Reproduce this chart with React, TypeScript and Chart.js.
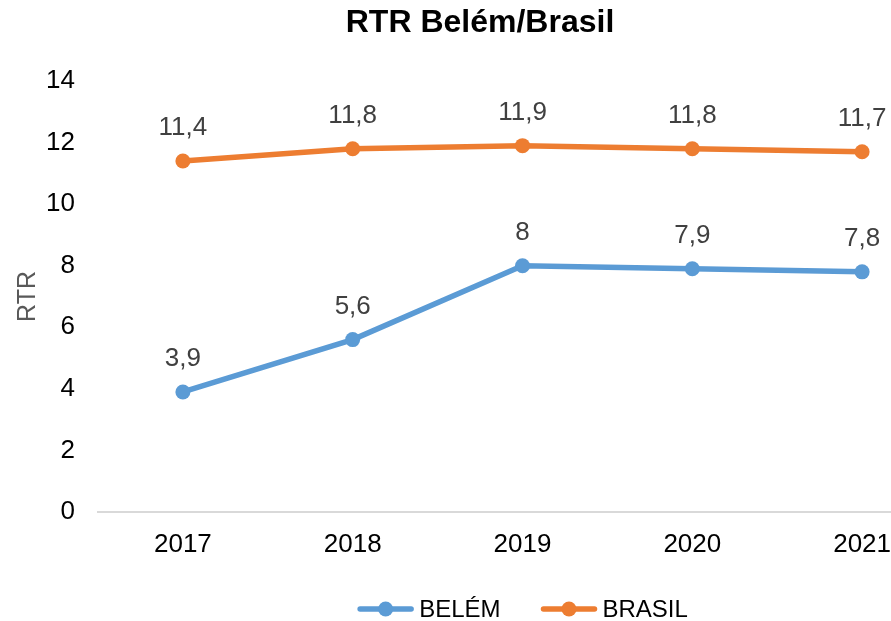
import React, { useEffect, useRef } from 'react';
import { Chart, registerables } from 'chart.js';

Chart.register(...registerables);

const years = ['2017', '2018', '2019', '2020', '2021'];
const belemValues = [3.9, 5.6, 8, 7.9, 7.8];
const brasilValues = [11.4, 11.8, 11.9, 11.8, 11.7];
const seriesNames = ['BELÉM', 'BRASIL'];
const seriesColors = ['#5B9BD5', '#ED7D31'];
const chartTitle = 'RTR Belém/Brasil';
const yAxisTitle = 'RTR';

const FONT = "'Liberation Sans', Arial, sans-serif";

const valueLabelPlugin = {
  id: 'valueLabels',
  afterDatasetsDraw(chart: any) {
    const ctx = chart.ctx;
    ctx.save();
    ctx.font = `26px ${FONT}`;
    ctx.fillStyle = '#404040';
    ctx.textAlign = 'center';
    ctx.textBaseline = 'middle';
    chart.data.datasets.forEach((ds: any, i: number) => {
      const meta = chart.getDatasetMeta(i);
      meta.data.forEach((pt: any, j: number) => {
        const v = ds.data[j];
        ctx.fillText(String(v).replace('.', ','), pt.x, pt.y - 33);
      });
    });
    ctx.restore();
  },
};

const customLegendPlugin = {
  id: 'customLegend',
  afterDraw(chart: any) {
    const ctx = chart.ctx;
    const { left, right } = chart.chartArea;
    const cx = (left + right) / 2;
    const y = chart.height - 12;
    const lineW = 57;
    const gap = 5;
    const itemGap = 40;
    ctx.save();
    ctx.font = `24px ${FONT}`;
    const items = chart.data.datasets.map((ds: any) => ({
      label: ds.label,
      color: ds.borderColor,
      tw: ctx.measureText(ds.label).width,
    }));
    const total =
      items.reduce((s: number, it: any) => s + lineW + gap + it.tw, 0) +
      itemGap * (items.length - 1);
    let x = cx - total / 2;
    items.forEach((it: any) => {
      ctx.strokeStyle = it.color;
      ctx.lineWidth = 5.5;
      ctx.lineCap = 'round';
      ctx.beginPath();
      ctx.moveTo(x + 3, y);
      ctx.lineTo(x + lineW - 3, y);
      ctx.stroke();
      ctx.fillStyle = it.color;
      ctx.beginPath();
      ctx.arc(x + lineW / 2, y, 7.5, 0, Math.PI * 2);
      ctx.fill();
      ctx.fillStyle = '#000';
      ctx.textAlign = 'left';
      ctx.textBaseline = 'middle';
      ctx.fillText(it.label, x + lineW + gap, y + 1);
      x += lineW + gap + it.tw + itemGap;
    });
    ctx.restore();
  },
};

export default function App() {
  const canvasRef = useRef<HTMLCanvasElement | null>(null);

  useEffect(() => {
    if (!canvasRef.current) return;
    const makeDataset = (label: string, data: number[], color: string) => ({
      label,
      data,
      borderColor: color,
      backgroundColor: color,
      pointBackgroundColor: color,
      pointBorderWidth: 0,
      pointRadius: 7.5,
      borderWidth: 5.5,
      tension: 0,
    });
    const chart = new Chart(canvasRef.current, {
      type: 'line',
      data: {
        labels: years,
        datasets: [
          makeDataset(seriesNames[0], belemValues, seriesColors[0]),
          makeDataset(seriesNames[1], brasilValues, seriesColors[1]),
        ],
      },
      options: {
        responsive: false,
        animation: false,
        devicePixelRatio: 1,
        layout: { padding: { top: 0, left: 13, right: 13, bottom: 0 } },
        plugins: {
          legend: { display: false },
          tooltip: { enabled: false },
          title: {
            display: true,
            text: chartTitle,
            color: '#000',
            font: { family: FONT, size: 32, weight: 'bold' },
            padding: { top: 4, bottom: 38.6 },
          },
        },
        scales: {
          x: {
            offset: true,
            grid: { display: false, drawTicks: false },
            border: { display: true, color: '#d9d9d9', width: 2 },
            ticks: {
              color: '#000',
              font: { family: FONT, size: 26 },
              padding: 17,
              maxRotation: 0,
            },
            afterFit(scale: any) {
              scale.height = 109;
            },
          },
          y: {
            min: 0,
            max: 14,
            grid: { display: false, drawTicks: false },
            border: { display: false },
            ticks: {
              stepSize: 2,
              color: '#000',
              font: { family: FONT, size: 26 },
              padding: 23,
            },
            title: {
              display: true,
              text: yAxisTitle,
              color: '#595959',
              font: { family: FONT, size: 25 },
              padding: { top: 0, bottom: 0 },
            },
            afterFit(scale: any) {
              scale.width = 85;
            },
          },
        },
      },
      plugins: [valueLabelPlugin, customLegendPlugin],
    });
    return () => chart.destroy();
  }, []);

  return (
    <div
      style={{
        position: 'fixed',
        left: 0,
        top: 0,
        width: 891,
        height: 621,
        overflow: 'hidden',
        background: '#fff',
      }}
    >
      <canvas ref={canvasRef} width={960} height={621} style={{ display: 'block' }} />
    </div>
  );
}
